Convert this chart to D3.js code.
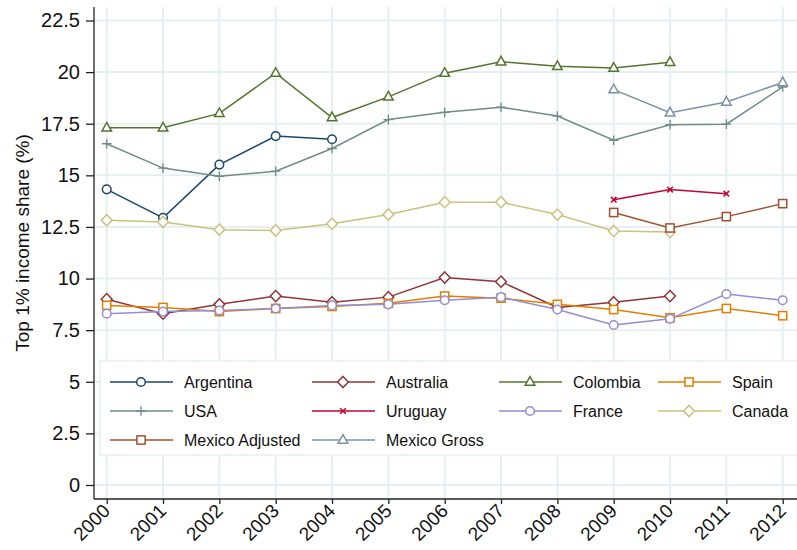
<!DOCTYPE html>
<html><head><meta charset="utf-8">
<script src="https://cdn.jsdelivr.net/npm/d3@7"></script>
<style>body{margin:0;background:#fff}svg{display:block;font-family:"Liberation Sans",Arial,Helvetica,sans-serif}</style>
</head><body><svg id="c" width="797" height="550"></svg>
<script>
const years = [2000,2001,2002,2003,2004,2005,2006,2007,2008,2009,2010,2011,2012];
const yTicks = [0,2.5,5,7.5,10,12.5,15,17.5,20,22.5];
const seriesNames = ["Argentina","Australia","Colombia","Spain","USA","Uruguay","France","Canada","Mexico Adjusted","Mexico Gross"];
const seriesColors = ["#1a476f","#90353b","#55752f","#e37e00","#6e8e84","#c10534","#938dd2","#cac27e","#a0522d","#7b92a8"];
const seriesSymbols = ["circle","diamond","triangle","square","plus","cross","circle","diamond","square","triangle"];
const argentina = [14.32,12.94,15.52,16.9,16.75,null,null,null,null,null,null,null,null];
const australia = [9.0,8.3,8.75,9.15,8.85,9.1,10.05,9.85,8.6,8.85,9.15,null,null];
const colombia = [17.3,17.3,18.0,19.95,17.8,18.8,19.95,20.5,20.28,20.2,20.48,null,null];
const spain = [8.7,8.6,8.4,8.55,8.65,8.8,9.15,9.05,8.75,8.5,8.1,8.55,8.2];
const usa = [16.53,15.35,14.95,15.2,16.3,17.7,18.05,18.3,17.87,16.7,17.45,17.48,19.28];
const uruguay = [null,null,null,null,null,null,null,null,null,13.82,14.31,14.11,null];
const france = [8.3,8.4,8.45,8.55,8.7,8.75,8.95,9.1,8.5,7.75,8.05,9.25,8.95];
const canada = [12.82,12.74,12.37,12.33,12.65,13.1,13.7,13.7,13.1,12.3,12.25,null,null];
const mexicoAdjusted = [null,null,null,null,null,null,null,null,null,13.2,12.45,13.0,13.63];
const mexicoGross = [null,null,null,null,null,null,null,null,null,19.15,18.03,18.55,19.5];
const seriesValues = [argentina,australia,colombia,spain,usa,uruguay,france,canada,mexicoAdjusted,mexicoGross];

const svg = d3.select("#c");
const L = 94, R = 797, T = 7, B = 499;
const x = d3.scaleLinear().domain([2000,2012]).range([106.7,782.7]);
const y = d3.scaleLinear().domain([0,22.5]).range([485,20.5]);
const grid = "#e6eff2";
const ff = "Liberation Sans, Arial, Helvetica, sans-serif";

// grid
svg.append("g").selectAll("line").data(yTicks).join("line")
  .attr("x1",L).attr("x2",R).attr("y1",d=>y(d)).attr("y2",d=>y(d))
  .attr("stroke",grid).attr("stroke-width",2);
svg.append("g").selectAll("line").data(years).join("line")
  .attr("y1",T).attr("y2",B).attr("x1",d=>x(d)).attr("x2",d=>x(d))
  .attr("stroke",grid).attr("stroke-width",2);

function sym(g, type, color){
  if(type==="circle") g.append("circle").attr("r",4.3).attr("fill","#fff").attr("stroke",color).attr("stroke-width",1.5);
  else if(type==="diamond") g.append("path").attr("d","M0,-5.6L5.4,0L0,5.6L-5.4,0Z").attr("fill","#fff").attr("stroke",color).attr("stroke-width",1.5);
  else if(type==="triangle") g.append("path").attr("d","M0,-5.4L4.8,3.2L-4.8,3.2Z").attr("fill","#fff").attr("stroke",color).attr("stroke-width",1.5);
  else if(type==="square") g.append("rect").attr("x",-4.1).attr("y",-4.1).attr("width",8.2).attr("height",8.2).attr("fill","#fff").attr("stroke",color).attr("stroke-width",1.5);
  else if(type==="plus") g.append("path").attr("d","M-4.8,0H4.8M0,-4.8V4.8").attr("stroke",color).attr("stroke-width",1.3).attr("fill","none");
  else if(type==="cross") g.append("path").attr("d","M-2.8,-2.8L2.8,2.8M-2.8,2.8L2.8,-2.8").attr("stroke",color).attr("stroke-width",1.6).attr("fill","none");
}

const line = d3.line().defined(d=>d.v!=null).x(d=>x(d.year)).y(d=>y(d.v));
seriesNames.forEach((name,i)=>{
  const pts = years.map((yr,j)=>({year:yr,v:seriesValues[i][j]}));
  svg.append("path").datum(pts).attr("d",line).attr("fill","none")
    .attr("stroke",seriesColors[i]).attr("stroke-width",1.5);
  pts.filter(p=>p.v!=null).forEach(p=>{
    const g = svg.append("g").attr("transform",`translate(${x(p.year)},${y(p.v)})`);
    sym(g, seriesSymbols[i], seriesColors[i]);
  });
});

// axes
const yAxis = svg.append("g").attr("transform",`translate(${L},0)`)
  .call(d3.axisLeft(y).tickValues(yTicks).tickSize(8).tickPadding(6).tickFormat(d3.format("")));
yAxis.select(".domain").attr("d",`M0,${T}V${B}`).attr("stroke","#222").attr("stroke-width",1.3);
yAxis.selectAll(".tick line").attr("stroke","#222").attr("stroke-width",1.3);
yAxis.selectAll(".tick text").attr("font-size",20).attr("fill","#111").style("font-family",ff);

const xAxis = svg.append("g").attr("transform",`translate(0,${B})`)
  .call(d3.axisBottom(x).tickValues(years).tickSize(5).tickFormat(d3.format("d")));
xAxis.select(".domain").attr("d",`M${L},0H${R}`).attr("stroke","#222").attr("stroke-width",1.3);
xAxis.selectAll(".tick line").attr("stroke","#222").attr("stroke-width",1.3);
xAxis.selectAll(".tick text").attr("font-size",19).attr("fill","#111")
  .attr("text-anchor","end").attr("dy","0").attr("y",0)
  .attr("transform","translate(4,13) rotate(-45)").style("font-family",ff);

svg.append("text").attr("transform",`translate(29,243) rotate(-90)`)
  .attr("text-anchor","middle").attr("font-size",19).attr("fill","#111")
  .text("Top 1% income share (%)");

// legend
const lg = svg.append("g");
lg.append("rect").attr("x",100).attr("y",361).attr("width",700).attr("height",94)
  .attr("fill","#fff").attr("stroke","#e6eff2").attr("stroke-width",1.5);
const colX = [110,312,499,658];
const rowY = [382,411,440];
seriesNames.forEach((name,i)=>{
  const cx = colX[i%4], cy = rowY[Math.floor(i/4)];
  lg.append("line").attr("x1",cx).attr("x2",cx+63).attr("y1",cy).attr("y2",cy)
    .attr("stroke",seriesColors[i]).attr("stroke-width",1.5);
  const g = lg.append("g").attr("transform",`translate(${cx+31},${cy})`);
  sym(g, seriesSymbols[i], seriesColors[i]);
  lg.append("text").attr("x",cx+74).attr("y",cy+6).attr("font-size",16).attr("fill","#111").text(name);
});
</script></body></html>
